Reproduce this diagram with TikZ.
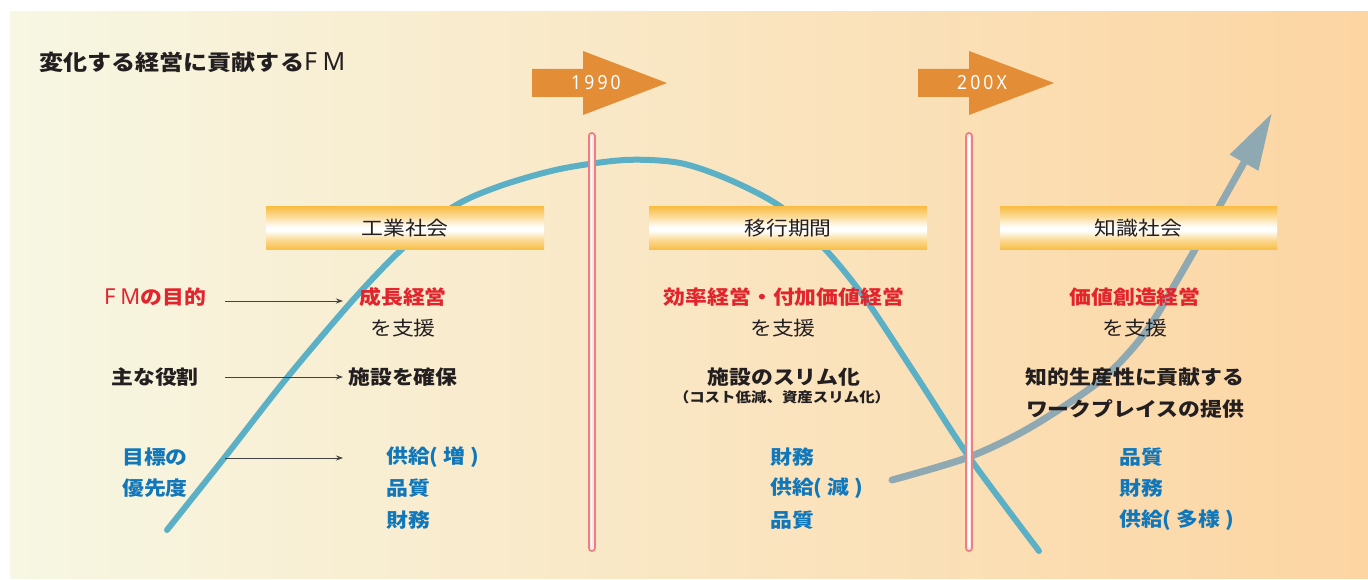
\documentclass[tikz,border=0pt]{standalone}
\usepackage{fontspec}
\usetikzlibrary{arrows.meta}
\newfontfamily\jp[FakeStretch=1.12]{Noto Sans CJK JP}
\newfontfamily\lat[LetterSpace=22]{Noto Sans}
\newfontfamily\latd[LetterSpace=16,FakeStretch=0.9]{Noto Sans}
\definecolor{bgL}{HTML}{F7F7E3}
\definecolor{bgM}{HTML}{F9E7C7}
\definecolor{bgR}{HTML}{FCD5A2}
\definecolor{barO}{HTML}{F9BF48}
\definecolor{barM}{HTML}{FBDA95}
\definecolor{orangeA}{HTML}{E38D37}
\definecolor{curveB}{HTML}{5BB0C5}
\definecolor{curveG}{HTML}{8FA9B2}
\definecolor{pinkO}{HTML}{EE7F80}
\definecolor{pinkI}{HTML}{FDE8E8}
\definecolor{myred}{HTML}{E2242D}
\definecolor{myblue}{HTML}{1177BB}
\definecolor{ink}{HTML}{231F20}
\pgfdeclareverticalshading{barshade}{100bp}{color(0bp)=(barO); color(25bp)=(barO); color(36bp)=(barM); color(47bp)=(white); color(51bp)=(white); color(64bp)=(barM); color(75bp)=(barO); color(100bp)=(barO)}
\begin{document}
\begin{tikzpicture}[x=1pt,y=-1pt,
  jtxt/.style={inner sep=0pt, text=ink, font=\jp\fontsize{19.5}{19.5}\selectfont},
  jbold/.style={inner sep=0pt, text=ink, font=\jp\bfseries\fontsize{19.5}{19.5}\selectfont},
  redtxt/.style={jbold, text=myred},
  bluetxt/.style={jbold, text=myblue},
  listtxt/.style={jbold, text=myblue, anchor=west},
  bar/.style={shading=barshade, minimum width=278pt, minimum height=42pt, inner sep=0pt, text=ink, font=\jp\fontsize{19.5}{19.5}\selectfont},
  yeararrow/.style={fill=orangeA, draw=none},
  yeartxt/.style={inner sep=0pt, text=white, font=\latd\fontsize{19.5}{19.5}\selectfont},
  conn/.style={draw=ink!85, line width=0.9pt, -{Stealth[length=7pt,width=5pt]}},
  bluecurve/.style={draw=curveB, line width=6pt, line cap=round},
  graycurve/.style={draw=curveG, line width=7pt, line cap=round, -{Triangle[length=57pt,width=31pt]}},
  pinkline/.style={draw=pinkO, line width=8pt, line cap=round}
]
\useasboundingbox (0,0) rectangle (1368,580);
\fill[white] (0,0) rectangle (1368,580);
\shade[left color=bgL, middle color=bgM, right color=bgR] (10,12) rectangle (1368,578);

% curves
\draw[bluecurve] plot[smooth] coordinates {(167,530) (225,457) (286,379) (353,300) (402,249) (453,207) (500,186) (560,169) (625,160) (680,163) (730,180) (781,207) (825,249) (864,297) (917,377) (969,457) (1039,551)};
\draw[graycurve] plot[smooth] coordinates {(892,480) (969,457) (1031,427) (1101,380) (1145,333) (1182,272) (1219,207)} -- (1272,113);

% pink year lines
\foreach \xx in {591.5,969}{
  \draw[pinkline] (\xx,136) -- (\xx,548);
  \draw[pinkI, line width=4pt, line cap=round] (\xx,136) -- (\xx,548);
  \draw[white, line width=1.6pt, line cap=round] (\xx,138) -- (\xx,546);
}

% year arrows
\fill[yeararrow] (532,69) -- (583,69) -- (583,51) -- (667,83) -- (583,115) -- (583,97) -- (532,97) -- cycle;
\node[yeartxt] (y1990) at (596,83) {1990};
\fill[yeararrow] (918,69) -- (969,69) -- (969,51) -- (1054,83) -- (969,115) -- (969,97) -- (918,97) -- cycle;
\node[yeartxt] (y200x) at (982,83) {200X};

% title
\node[anchor=west, inner sep=0pt, text=ink, font=\jp\bfseries\fontsize{21.5}{21.5}\selectfont] (title) at (39,62) {変化する経営に貢献する{\lat\mdseries\fontsize{25}{25}\selectfont FM}};

% bars
\node[bar] (ind) at (405,228) {工業社会};
\node[bar] (tra) at (788,228) {移行期間};
\node[bar, minimum width=277pt] (kno) at (1138.5,228) {知識社会};

% left labels
\node[redtxt] (fm) at (155,297) {{\lat\mdseries\fontsize{22}{22}\selectfont FM}の目的};
\node[jbold] (role) at (155,377) {主な役割};
\node[bluetxt] (mk1) at (155,457) {目標の};
\node[bluetxt] (mk2) at (155,488) {優先度};

% column 1
\node[redtxt] (g1) at (403,297) {成長経営};
\node[jtxt] (s1) at (403,328) {を支援};
\node[jbold] (r1) at (403,377) {施設を確保};
\node[listtxt] (l11) at (386,457) {供給( 増 )};
\node[listtxt] (l12) at (386,488) {品質};
\node[listtxt] (l13) at (386,520) {財務};

% column 2
\node[redtxt] (g2) at (784,297) {効率経営・付加価値経営};
\node[jtxt] (s2) at (783,328) {を支援};
\node[jbold] (r2) at (784,377) {施設のスリム化};
\node[jbold, font=\jp\bfseries\fontsize{13.8}{13.8}\selectfont] (r2b) at (782,397) {（コスト低減、資産スリム化）};
\node[listtxt] (l21) at (770,457) {財務};
\node[listtxt] (l22) at (770,488) {供給( 減 )};
\node[listtxt] (l23) at (770,520) {品質};

% column 3
\node[redtxt] (g3) at (1135,297) {価値創造経営};
\node[jtxt] (s3) at (1135,328) {を支援};
\node[jbold] (r3a) at (1135,377) {知的生産性に貢献する};
\node[jbold] (r3b) at (1135,409) {ワークプレイスの提供};
\node[listtxt] (l31) at (1119,457) {品質};
\node[listtxt] (l32) at (1119,488) {財務};
\node[listtxt] (l33) at (1119,520) {供給( 多様 )};

% connectors
\coordinate (a1s) at (225,301); \coordinate (a1e) at (343,301);
\coordinate (a2s) at (225,377); \coordinate (a2e) at (343,377);
\coordinate (a3s) at (225,458); \coordinate (a3e) at (343,458);
\draw[conn] (a1s) -- (a1e);
\draw[conn] (a2s) -- (a2e);
\draw[conn] (a3s) -- (a3e);
\end{tikzpicture}
\end{document}
